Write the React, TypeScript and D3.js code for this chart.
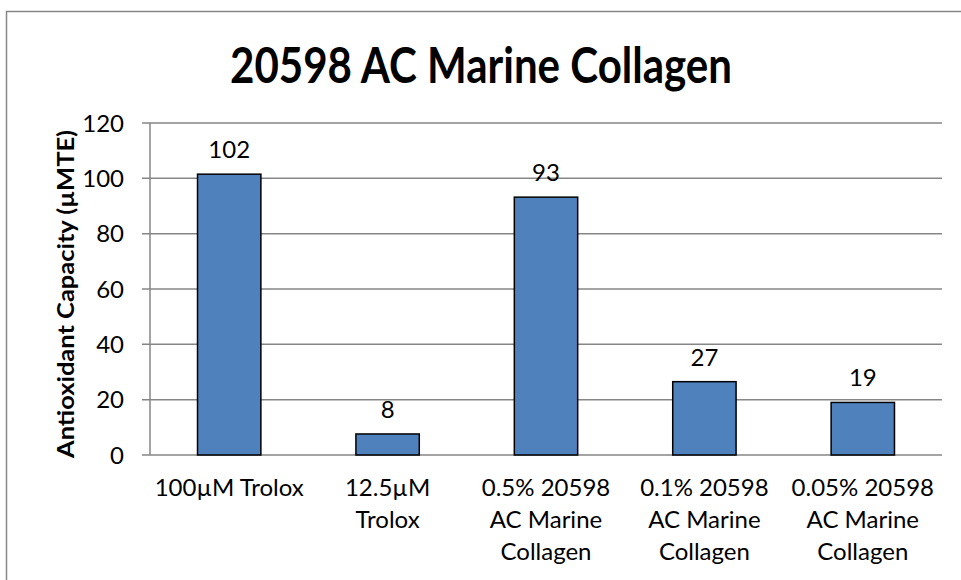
import React from 'react'
import * as d3 from 'd3'

// values
const categories = [
  ['100µM Trolox'],
  ['12.5µM', 'Trolox'],
  ['0.5% 20598', 'AC Marine', 'Collagen'],
  ['0.1% 20598', 'AC Marine', 'Collagen'],
  ['0.05% 20598', 'AC Marine', 'Collagen'],
]
const values = [101.5, 7.6, 93.2, 26.5, 19.0]
const valueLabels = ['102', '8', '93', '27', '19']
const yTicks = [0, 20, 40, 60, 80, 100, 120]

const W = 961
const H = 580
const font = 'Lato, Carlito, Calibri, sans-serif'

function App() {
  const margin = { left: 150, right: 19, top: 123, bottom: 125 }
  const x = d3
    .scaleBand<number>()
    .domain(values.map((_, i) => i))
    .range([margin.left, W - margin.right])
    .paddingInner(0.6)
    .paddingOuter(0.3)
  const y = d3.scaleLinear().domain([0, 120]).range([H - margin.bottom, margin.top])

  return (
    <svg width={W} height={H} style={{ position: 'absolute', left: 0, top: 0, background: '#fff' }}>
      <rect x={6.5} y={11.5} width={W} height={H} fill="#fff" stroke="#868686" strokeWidth={1.5} />
      <text
        x={481}
        y={83}
        textAnchor="middle"
        fontFamily={font}
        fontWeight="bold"
        fontSize={50}
        textLength={502}
        lengthAdjust="spacingAndGlyphs"
      >
        20598 AC Marine Collagen
      </text>

      {/* gridlines */}
      {yTicks.map((t) => (
        <g key={t}>
          <line x1={margin.left - 8} x2={W - margin.right} y1={y(t)} y2={y(t)} stroke="#868686" strokeWidth={1.5} />
          <text x={124} y={y(t)} dy="0.36em" textAnchor="end" fontFamily={font} fontSize={24}>
            {t}
          </text>
        </g>
      ))}
      <line x1={margin.left} x2={margin.left} y1={y(120)} y2={y(0)} stroke="#868686" strokeWidth={1.5} />

      {/* bars */}
      {values.map((v, i) => (
        <g key={i}>
          <rect
            x={x(i)}
            y={y(v)}
            width={x.bandwidth()}
            height={y(0) - y(v)}
            fill="#4F81BD"
            stroke="#000"
            strokeWidth={1.5}
          />
          <text
            x={(x(i) as number) + x.bandwidth() / 2}
            y={y(v) - 16}
            textAnchor="middle"
            fontFamily={font}
            fontSize={24}
          >
            {valueLabels[i]}
          </text>
        </g>
      ))}

      {/* category labels */}
      {categories.map((lines, i) => (
        <text
          key={i}
          x={(x(i) as number) + x.bandwidth() / 2}
          y={496}
          textAnchor="middle"
          fontFamily={font}
          fontSize={24}
        >
          {lines.map((l, j) => (
            <tspan key={j} x={(x(i) as number) + x.bandwidth() / 2} dy={j === 0 ? 0 : 32}>
              {l}
            </tspan>
          ))}
        </text>
      ))}

      <text
        transform={`translate(74, ${(y(0) + y(120)) / 2 + 5}) rotate(-90)`}
        textAnchor="middle"
        fontFamily={font}
        fontWeight="bold"
        fontSize={23}
        textLength={328}
        lengthAdjust="spacingAndGlyphs"
      >
        Antioxidant Capacity (µMTE)
      </text>
    </svg>
  )
}

export default App
